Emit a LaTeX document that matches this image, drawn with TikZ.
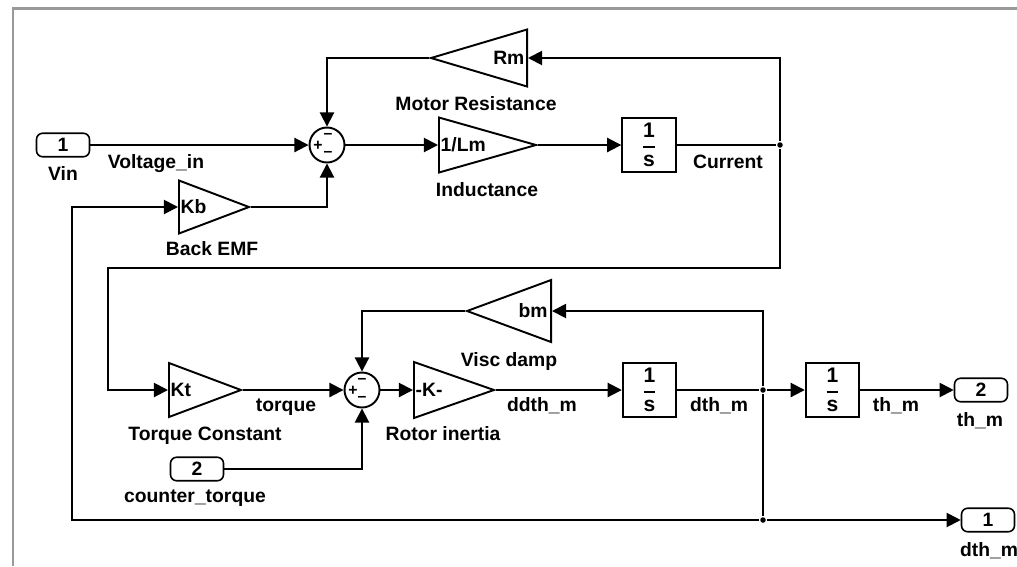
\documentclass[tikz,border=0pt]{standalone}
\usepackage{amsmath}
\usepackage{fontspec}
\setmainfont{Liberation Sans}
\usetikzlibrary{shapes.geometric,arrows.meta,calc,positioning}
\definecolor{framegray}{RGB}{153,153,153}
\newcommand{\oneovers}{$\genfrac{}{}{0.9pt}{0}{\text{1}}{\text{s}}$}

\begin{document}
\begin{tikzpicture}[x=0.02cm,y=-0.02cm,line width=1.1pt,
  every node/.style={font=\fontsize{11}{13}\selectfont\bfseries},
  sig/.style={-{Triangle[length=8pt,width=8pt]}},
  gain/.style={draw,isosceles triangle,isosceles triangle stretches,inner sep=0pt,anchor=lower side},
  intg/.style={draw,minimum width=1.07cm,minimum height=1.08cm,inner sep=0pt,font=\fontsize{12}{14}\selectfont\bfseries},
  port/.style={draw,rectangle,rounded corners=3.5pt,minimum width=1.06cm,minimum height=0.47cm,inner sep=0pt,line width=0.9pt},
  sum/.style={draw,circle,minimum size=0.7cm,inner sep=0pt},
  sgn/.style={font=\fontsize{9}{9}\selectfont\bfseries,inner sep=0pt},
  lbl/.style={inner sep=0pt,anchor=base},
  dot/.style={circle,fill,inner sep=0pt,minimum size=0.11cm}]
\useasboundingbox (0,0) rectangle (1017,566);
% window frame
\draw[framegray,line width=0.06cm] (13,566) -- (13,8) -- (1017,8);

% electrical part
\node[port] (vin) at (63,145) {1};
\node[sum] (s1) at (327,145) {};
\node[sgn] (s1t) at ($(s1)+(1,-9)$) {--};
\node[sgn] (s1l) at ($(s1)+(-9,1)$) {+};
\node[sgn] (s1b) at ($(s1)+(1,9)$) {--};
\node[gain,shape border rotate=180,minimum height=1.92cm,minimum width=1.14cm,
  label={[anchor=east,inner sep=1.5pt]0:Rm}] (rm) at (528,58) {};
\node[gain,minimum height=1.94cm,minimum width=1.1cm,
  label={[anchor=west,inner sep=1pt]180:1/Lm}] (lm) at (438,145) {};
\node[intg] (i1) at (649,145) {\oneovers};
\node[dot] (j1) at (780,145) {};
\node[gain,minimum height=1.4cm,minimum width=1.06cm,
  label={[anchor=west,inner sep=1pt]180:Kb}] (kb) at (178,207) {};

% mechanical part
\node[gain,minimum height=1.44cm,minimum width=1.08cm,
  label={[anchor=west,inner sep=1pt]180:Kt}] (kt) at (168,390) {};
\node[sum] (s2) at (362,390) {};
\node[sgn] (s2t) at ($(s2)+(0,-9)$) {--};
\node[sgn] (s2l) at ($(s2)+(-9,1)$) {+};
\node[sgn] (s2b) at ($(s2)+(0,9)$) {--};
\node[gain,minimum height=1.6cm,minimum width=1.12cm,
  label={[anchor=west,inner sep=1pt]180:-K-}] (ri) at (413,390) {};
\node[gain,shape border rotate=180,minimum height=1.68cm,minimum width=1.24cm,
  label={[anchor=east,inner sep=2pt]0:bm}] (bm) at (552,311) {};
\node[intg] (i2) at (649.5,390) {\oneovers};
\node[dot] (j2) at (763,390) {};
\node[intg] (i3) at (832.5,390) {\oneovers};
\node[port] (thm) at (981,390) {2};
\node[port] (ct) at (197,469) {2};
\node[dot] (j3) at (763,520) {};
\node[port] (dthm) at (988,520) {1};
\coordinate (c1) at (780,268);
\coordinate (c2) at (108,268);
\coordinate (c3) at (72,520);

% block names and signal names
\node[lbl] (vinl) at (63,180) {Vin};
\node[lbl] (vinsig) at (156,168) {Voltage\_in};
\node[lbl] (rml) at (476,110) {Motor Resistance};
\node[lbl] (lml) at (487,196) {Inductance};
\node[lbl] (cursig) at (728,168) {Current};
\node[lbl] (kbl) at (212,255) {Back EMF};
\node[lbl] (ktl) at (205,440) {Torque Constant};
\node[lbl] (torsig) at (286,411) {torque};
\node[lbl] (ril) at (443,440) {Rotor inertia};
\node[lbl] (bml) at (509,366) {Visc damp};
\node[lbl] (ddsig) at (542,411) {ddth\_m};
\node[lbl] (dsig) at (719,411) {dth\_m};
\node[lbl] (thsig) at (896,411) {th\_m};
\node[lbl] (thml) at (980,426) {th\_m};
\node[lbl] (ctl) at (195,502) {counter\_torque};
\node[lbl] (dthml) at (989,556) {dth\_m};

% signal lines
\draw[sig] (vin.east) -- (s1.west);
\draw[sig] (s1.east) -- (lm.lower side);
\draw[sig] (lm.apex) -- (i1.west);
\draw (i1.east) -- (j1);
\draw[sig] (j1) |- (rm.lower side);
\draw[sig] (rm.apex) -| (s1.north);
\draw[sig] (kb.apex) -| (s1.south);
\draw[sig] (j1) -- (c1) -- (c2) |- (kt.lower side);
\draw[sig] (kt.apex) -- (s2.west);
\draw[sig] (ct.east) -| (s2.south);
\draw[sig] (s2.east) -- (ri.lower side);
\draw[sig] (ri.apex) -- (i2.west);
\draw (i2.east) -- (j2);
\draw[sig] (j2) -- (i3.west);
\draw[sig] (i3.east) -- (thm.west);
\draw[sig] (j2) |- (bm.lower side);
\draw[sig] (bm.apex) -| (s2.north);
\draw (j2) -- (j3);
\draw[sig] (j3) -- (dthm.west);
\draw[sig] (j3) -- (c3) |- (kb.lower side);
\end{tikzpicture}
\end{document}
